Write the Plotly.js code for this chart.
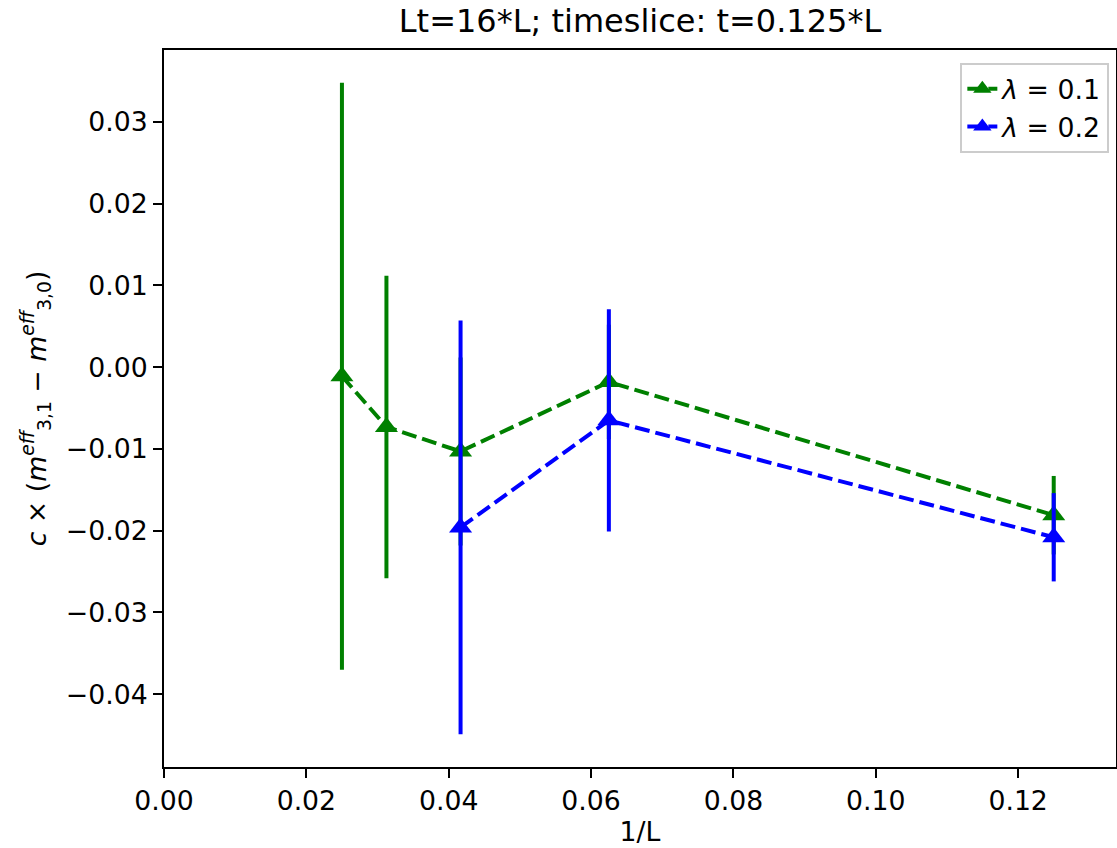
<!DOCTYPE html>
<html>
<head>
<meta charset="utf-8">
<script src="https://cdn.plot.ly/plotly-3.0.1.min.js"></script>
<style>html,body{margin:0;padding:0;background:#fff;}#chart{width:1117px;height:848px;}</style>
</head>
<body>
<div id="chart"></div>
<script>
// 1/L values
const invL_01 = [1/40, 1/32, 1/24, 1/16, 1/8];
const val_01  = [-0.0011, -0.0073, -0.0103, -0.0018, -0.0181];
const err_01  = [0.0359, 0.0185, 0.0115, 0.0070, 0.0048];

const invL_02 = [1/24, 1/16, 1/8];
const val_02  = [-0.0196, -0.0065, -0.0208];
const err_02  = [0.0253, 0.0136, 0.0054];

const seriesNames = ['<i>λ</i> = 0.1', '<i>λ</i> = 0.2'];
const titleText = 'Lt=16*L; timeslice: t=0.125*L';
const xTitle = '1/L';
const yTitle = '<i>c</i> × (<i>m</i><sup><i>eff</i></sup><sub>3,1</sub> − <i>m</i><sup><i>eff</i></sup><sub>3,0</sub>)';

const font = 'DejaVu Sans, sans-serif';
const fs = 26.7;

function mk(x, y, e, color, name) {
  return {
    x: x, y: y, name: name, type: 'scatter', mode: 'lines+markers',
    line: {color: color, width: 4, dash: '15px,6px'},
    marker: {symbol: 'triangle-up', size: 20, color: color},
    error_y: {type: 'data', array: e, symmetric: true, color: color, thickness: 4, width: 0, visible: true}
  };
}

const data = [
  mk(invL_01, val_01, err_01, '#008000', seriesNames[0]),
  mk(invL_02, val_02, err_02, '#0000ff', seriesNames[1])
];

const layout = {
  width: 1117, height: 848,
  margin: {l: 164, r: 1, t: 50, b: 81},
  paper_bgcolor: '#fff', plot_bgcolor: '#fff',
  font: {family: font, size: fs, color: '#000'},
  title: {text: titleText, font: {family: font, size: 32, color: '#000'}, x: 0.5, xanchor: 'center', y: 0.975, yanchor: 'middle', xref: 'paper'},
  xaxis: {
    range: [0, 0.13375], tickvals: [0, 0.02, 0.04, 0.06, 0.08, 0.10, 0.12], tickformat: '.2f',
    ticks: 'outside', ticklen: 9, tickwidth: 2, tickcolor: '#000',
    showline: true, linecolor: '#000', linewidth: 2, mirror: true,
    showgrid: false, zeroline: false, automargin: false,
    title: {text: xTitle, font: {family: font, size: fs}, standoff: 6},
    tickfont: {family: font, size: fs}
  },
  yaxis: {
    range: [-0.0489, 0.0388], tickvals: [-0.04, -0.03, -0.02, -0.01, 0, 0.01, 0.02, 0.03], tickformat: '.2f',
    ticks: 'outside', ticklen: 9, tickwidth: 2, tickcolor: '#000',
    showline: true, linecolor: '#000', linewidth: 2, mirror: true,
    showgrid: false, zeroline: false, automargin: false,
    title: {text: yTitle, font: {family: font, size: fs}, standoff: 12},
    tickfont: {family: font, size: fs}
  },
  showlegend: true,
  legend: {
    x: 0.993, y: 0.982, xanchor: 'right', yanchor: 'top',
    bgcolor: 'rgba(255,255,255,0.8)', bordercolor: '#cccccc', borderwidth: 2,
    font: {family: font, size: fs}, tracegroupgap: 0
  }
};

Plotly.newPlot('chart', data, layout, {displayModeBar: false, staticPlot: true});
</script>
</body>
</html>
